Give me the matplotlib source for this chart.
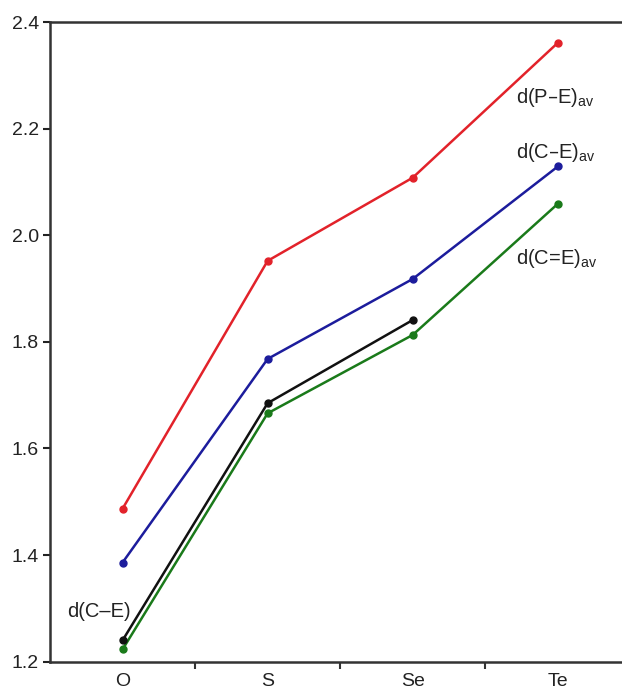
import numpy as np
import matplotlib.pyplot as plt

plt.rcParams['font.family'] = ['Liberation Sans', 'DejaVu Sans']
plt.rcParams['mathtext.default'] = 'regular'

elements = ['O', 'S', 'Se', 'Te']
d_PE_av = [1.487, 1.952, 2.108, 2.361]
d_CE_av = [1.386, 1.768, 1.918, 2.129]
d_CE = [1.240, 1.685, 1.841]
d_CdE_av = [1.223, 1.666, 1.813, 2.059]

red = '#e2222a'
blue = '#1c1c9c'
green = '#1a7a1a'
black = '#111111'

fig = plt.figure(figsize=(6.22, 6.91), dpi=100)
ax = fig.add_axes([0.0804, 0.0424, 0.933, 0.9257])

x = np.arange(len(elements))
lw = 1.8
ms = 5
ax.plot(x, d_PE_av, '-o', color=red, lw=lw, ms=ms)
ax.plot(x, d_CE_av, '-o', color=blue, lw=lw, ms=ms)
ax.plot(x, d_CdE_av, '-o', color=green, lw=lw, ms=ms)
ax.plot(x[:len(d_CE)], d_CE, '-o', color=black, lw=lw, ms=ms)

ax.set_xlim(-0.5, 3.5)
ax.set_ylim(1.2, 2.4)
ax.set_yticks([1.2, 1.4, 1.6, 1.8, 2.0, 2.2, 2.4])
ax.set_yticklabels(['1.2', '1.4', '1.6', '1.8', '2.0', '2.2', '2.4'])
ax.set_xticks(x)
ax.set_xticklabels(elements)
ax.set_xticks([0.5, 1.5, 2.5], minor=True)
ax.tick_params(axis='x', which='major', length=0, pad=8, labelsize=14, colors='#222222')
ax.tick_params(axis='x', which='minor', length=5, width=1.5, direction='out', color='#333333')
ax.tick_params(axis='y', length=5, width=1.5, direction='out', labelsize=14, pad=3, colors='#222222')
ax.tick_params(axis='both', labelcolor='#222222')

for s in ['left', 'bottom', 'top']:
    ax.spines[s].set_linewidth(1.8)
    ax.spines[s].set_color('#333333')
ax.spines['right'].set_visible(False)

fs = 14.5
ax.text(2.71, 2.249, 'd(P–E)$_{av}$', fontsize=fs, color='#222222', va='baseline')
ax.text(2.71, 2.145, 'd(C–E)$_{av}$', fontsize=fs, color='#222222', va='baseline')
ax.text(2.71, 1.946, 'd(C=E)$_{av}$', fontsize=fs, color='#222222', va='baseline')
ax.text(-0.379, 1.284, 'd(C–E)', fontsize=fs, color='#222222', va='baseline')

fig.savefig('out.png', dpi=100)
